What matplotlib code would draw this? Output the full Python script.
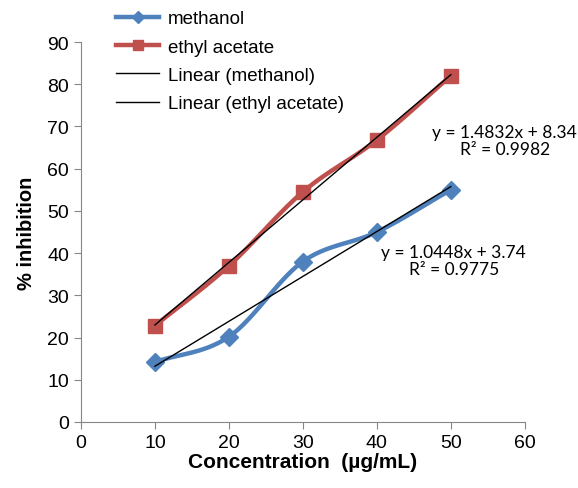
import matplotlib.pyplot as plt
import numpy as np

conc = [10, 20, 30, 40, 50]
methanol = [14.2, 20.2, 38.0, 45.0, 55.0]
ethyl_acetate = [22.8, 37.0, 54.5, 66.8, 82.0]
xticks = [0, 10, 20, 30, 40, 50, 60]
yticks = [0, 10, 20, 30, 40, 50, 60, 70, 80, 90]

plt.rcParams['font.family'] = ['Liberation Sans', 'DejaVu Sans']


def smooth(x, y, n=30):
    '''
    Catmull-Rom curve through the points, like Excel's smoothed line
    '''
    x = np.asarray(x, float)
    y = np.asarray(y, float)
    px = np.concatenate([[2 * x[0] - x[1]], x, [2 * x[-1] - x[-2]]])
    py = np.concatenate([[2 * y[0] - y[1]], y, [2 * y[-1] - y[-2]]])
    xs, ys = [], []
    t = np.linspace(0, 1, n)
    for i in range(1, len(px) - 2):
        for p, out in ((px, xs), (py, ys)):
            p0, p1, p2, p3 = p[i - 1], p[i], p[i + 1], p[i + 2]
            out.extend(0.5 * (2 * p1 + (-p0 + p2) * t
                              + (2 * p0 - 5 * p1 + 4 * p2 - p3) * t ** 2
                              + (-p0 + 3 * p1 - 3 * p2 + p3) * t ** 3))
    return xs, ys


fig = plt.figure(figsize=(5.78, 4.89), dpi=100)
ax = fig.add_axes([0.140, 0.135, 0.768, 0.777])

blue = '#4F81BD'
red = '#C0504D'

sx, sy = smooth(conc, methanol)
ax.plot(sx, sy, color=blue, lw=3.2, zorder=2)
ax.plot(conc, methanol, 'D', color=blue, ms=9, zorder=3)
sx, sy = smooth(conc, ethyl_acetate)
ax.plot(sx, sy, color=red, lw=3.2, zorder=2)
ax.plot(conc, ethyl_acetate, 's', color=red, ms=10, zorder=3)

xx = np.array([conc[0], conc[-1]])
m1 = np.polyfit(conc, methanol, 1)
m2 = np.polyfit(conc, ethyl_acetate, 1)
ax.plot(xx, np.polyval(m1, xx), color='black', lw=1, zorder=4)
ax.plot(xx, np.polyval(m2, xx), color='black', lw=1, zorder=4)

ax.text(57.3, 66.6, 'y = 1.4832x + 8.34\nR² = 0.9982', family='Lato',
        fontsize=12.5, ha='center', va='center', linespacing=1.1, clip_on=False)
ax.text(50.4, 38.2, 'y = 1.0448x + 3.74\nR² = 0.9775', family='Lato',
        fontsize=12.5, ha='center', va='center', linespacing=1.1, clip_on=False)

ax.set_xlim(0, 60)
ax.set_ylim(0, 90)
ax.set_xticks(xticks)
ax.set_yticks(yticks)
ax.tick_params(labelsize=14, color='#868686', length=5)
for s in ['top', 'right']:
    ax.spines[s].set_visible(False)
for s in ['left', 'bottom']:
    ax.spines[s].set_color('#868686')
ax.set_xlabel('Concentration  (µg/mL)', fontsize=15, fontweight='bold', labelpad=1)
ax.set_ylabel('% inhibition', fontsize=14.5, fontweight='bold', labelpad=8)

h1 = plt.Line2D([], [], color=blue, lw=3.2, marker='D', ms=6)
h2 = plt.Line2D([], [], color=red, lw=3.2, marker='s', ms=7)
h3 = plt.Line2D([], [], color='black', lw=1)
h4 = plt.Line2D([], [], color='black', lw=1)
fig.legend([h1, h2, h3, h4],
           ['methanol', 'ethyl acetate', 'Linear (methanol)', 'Linear (ethyl acetate)'],
           loc='upper left', bbox_to_anchor=(0.172, 1.012), frameon=False,
           fontsize=13.5, handlelength=2.3, handletextpad=0.45, labelspacing=0.6)

fig.savefig('out.png', dpi=100)
